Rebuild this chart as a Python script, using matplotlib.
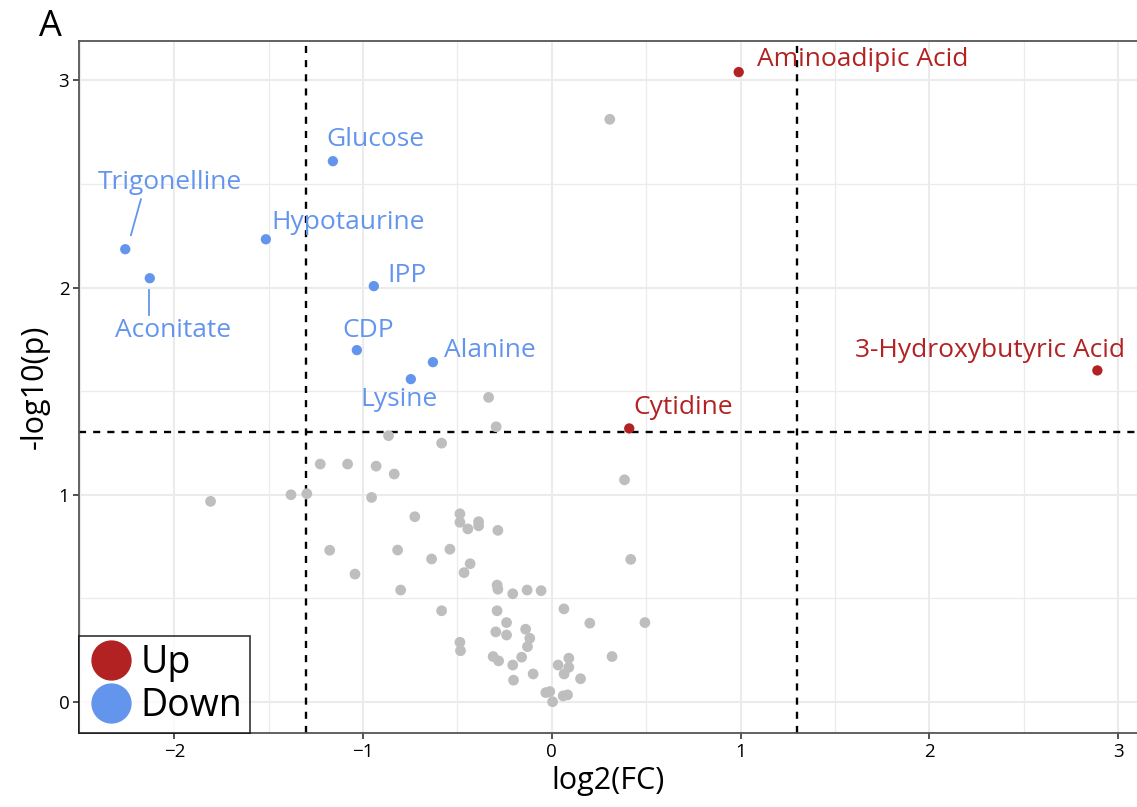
import numpy as np
import matplotlib
matplotlib.use('Agg')
import matplotlib.pyplot as plt
from matplotlib.lines import Line2D
from matplotlib.ticker import MultipleLocator

plt.rcParams['font.family'] = ['Open Sans', 'DejaVu Sans']

# significant metabolites
up_names = ['Aminoadipic Acid', '3-Hydroxybutyric Acid', 'Cytidine']
up_fc = [0.99, 2.89, 0.41]
up_p = [3.04, 1.60, 1.32]

down_names = ['Glucose', 'Trigonelline', 'Aconitate', 'Hypotaurine', 'IPP',
              'CDP', 'Alanine', 'Lysine']
down_fc = [-1.16, -2.26, -2.13, -1.515, -0.943, -1.033, -0.63, -0.747]
down_p = [2.61, 2.185, 2.045, 2.233, 2.007, 1.698, 1.64, 1.558]

# not significant
ns_fc = [0.307, -0.335, -0.295, -0.584, 0.385, -0.865, -1.227, -1.082, -0.931, -0.835,
         -1.808, -1.382, -1.298, -0.955, -0.726, -0.487, -0.487, -0.445, -0.388, -0.388,
         -0.286, -1.177, -0.817, -0.540, -0.637, -0.433, -0.465, -1.043, 0.418, -0.801,
         -0.290, -0.286, -0.207, -0.131, -0.057, -0.584, -0.290, 0.064, 0.201, 0.493,
         -0.240, -0.297, -0.240, -0.139, -0.117, -0.129, -0.487, -0.484, -0.311, -0.282,
         -0.160, -0.207, -0.099, -0.203, 0.033, 0.090, 0.090, 0.065, 0.152, 0.319,
         -0.032, -0.011, 0.004, 0.060, 0.083]
ns_p = [2.812, 1.470, 1.328, 1.249, 1.072, 1.285, 1.148, 1.148, 1.138, 1.100,
        0.968, 1.000, 1.005, 0.987, 0.894, 0.908, 0.867, 0.835, 0.870, 0.850,
        0.828, 0.732, 0.733, 0.737, 0.690, 0.667, 0.624, 0.617, 0.688, 0.540,
        0.564, 0.544, 0.522, 0.540, 0.537, 0.440, 0.440, 0.449, 0.380, 0.383,
        0.383, 0.338, 0.323, 0.351, 0.307, 0.267, 0.288, 0.247, 0.219, 0.198,
        0.216, 0.178, 0.135, 0.105, 0.178, 0.211, 0.167, 0.135, 0.112, 0.219,
        0.045, 0.050, 0.001, 0.029, 0.034]

red = '#B22222'
blue = '#6495ED'
grey = '#BEBEBE'

fig = plt.figure(figsize=(11.37, 8.07), dpi=100)
ax = fig.add_axes([79/1137, 74/807, 1 - 79/1137, (733-41)/807])

ax.scatter(ns_fc, ns_p, s=60, color=grey, edgecolors='none', zorder=3)
ax.scatter(up_fc, up_p, s=55, color=red, edgecolors='none', zorder=4)
ax.scatter(down_fc, down_p, s=55, color=blue, edgecolors='none', zorder=4)

ax.axhline(1.301, color='black', ls=(0, (3, 3)), lw=1.7, zorder=2)
ax.axvline(-1.3, color='black', ls=(0, (3, 3)), lw=1.7, zorder=2)
ax.axvline(1.3, color='black', ls=(0, (3, 3)), lw=1.7, zorder=2)

# labels
fs = 19
ax.text(1.086, 3.10, 'Aminoadipic Acid', color=red, fontsize=fs, ha='left', va='center')
ax.text(3.035, 1.695, '3-Hydroxybutyric Acid', color=red, fontsize=fs, ha='right', va='center')
ax.text(0.434, 1.42, 'Cytidine', color=red, fontsize=fs, ha='left', va='center')
ax.text(-1.192, 2.713, 'Glucose', color=blue, fontsize=fs, ha='left', va='center')
ax.text(-2.023, 2.505, 'Trigonelline', color=blue, fontsize=fs, ha='center', va='center')
ax.text(-1.488, 2.312, 'Hypotaurine', color=blue, fontsize=fs, ha='left', va='center')
ax.text(-0.869, 2.057, 'IPP', color=blue, fontsize=fs, ha='left', va='center')
ax.text(-2.007, 1.791, 'Aconitate', color=blue, fontsize=fs, ha='center', va='center')
ax.text(-1.112, 1.791, 'CDP', color=blue, fontsize=fs, ha='left', va='center')
ax.text(-0.572, 1.695, 'Alanine', color=blue, fontsize=fs, ha='left', va='center')
ax.text(-1.012, 1.458, 'Lysine', color=blue, fontsize=fs, ha='left', va='center')
ax.plot([-2.230, -2.177], [2.253, 2.426], color=blue, lw=1.3)
ax.plot([-2.135, -2.135], [1.987, 1.867], color=blue, lw=1.3)

ax.set_xlim(-2.505, 3.10)
ax.set_ylim(-0.15, 3.19)
ax.xaxis.set_major_locator(MultipleLocator(1))
ax.xaxis.set_minor_locator(MultipleLocator(0.5))
ax.yaxis.set_major_locator(MultipleLocator(1))
ax.yaxis.set_minor_locator(MultipleLocator(0.5))
ax.grid(which='major', color='#EBEBEB', lw=1.5, zorder=0)
ax.grid(which='minor', color='#EBEBEB', lw=0.9, zorder=0)
ax.set_axisbelow(True)
ax.tick_params(which='minor', length=0)
ax.tick_params(which='major', length=4, width=1.2, color='#333333', labelsize=13.5, pad=3)
for s in ['left', 'bottom', 'top']:
    ax.spines[s].set_color('#555555')
    ax.spines[s].set_linewidth(1.3)
ax.spines['right'].set_visible(False)

ax.set_xlabel('log2(FC)', fontsize=22, labelpad=4)
ax.set_ylabel('-log10(p)', fontsize=22, labelpad=6)

handles = [Line2D([], [], marker='o', ls='none', color=red, markersize=28),
           Line2D([], [], marker='o', ls='none', color=blue, markersize=28)]
leg = ax.legend(handles, ['Up', 'Down'], loc='lower left', bbox_to_anchor=(0, 0),
                fontsize=27, frameon=True, fancybox=False, borderaxespad=0,
                handletextpad=0.15, labelspacing=0.15, borderpad=0.2, handlelength=1.3)
leg.get_frame().set_edgecolor('black')
leg.get_frame().set_linewidth(1.2)
leg.set_zorder(10)

fig.text(50/1137, 1 - 27/807, 'A', fontsize=26, ha='center', va='center')

fig.savefig('out.png', dpi=100)
